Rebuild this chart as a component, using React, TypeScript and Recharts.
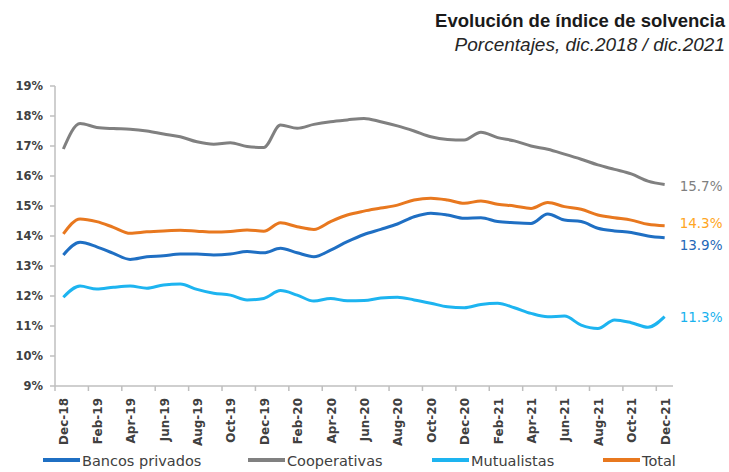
import { LineChart, Line, XAxis, YAxis, LabelList } from 'recharts'

const months = [
  'Dec-18', 'Jan-19', 'Feb-19', 'Mar-19', 'Apr-19', 'May-19', 'Jun-19', 'Jul-19', 'Aug-19', 'Sep-19',
  'Oct-19', 'Nov-19', 'Dec-19', 'Jan-20', 'Feb-20', 'Mar-20', 'Apr-20', 'May-20', 'Jun-20', 'Jul-20',
  'Aug-20', 'Sep-20', 'Oct-20', 'Nov-20', 'Dec-20', 'Jan-21', 'Feb-21', 'Mar-21', 'Apr-21', 'May-21',
  'Jun-21', 'Jul-21', 'Aug-21', 'Sep-21', 'Oct-21', 'Nov-21', 'Dec-21',
]

const bancosPrivados = [
  13.37, 13.79, 13.64, 13.42, 13.22, 13.31, 13.34, 13.4, 13.4, 13.37, 13.4, 13.48, 13.44,
  13.59, 13.44, 13.31, 13.53, 13.81, 14.05, 14.22, 14.4, 14.64, 14.76, 14.7, 14.59, 14.61,
  14.48, 14.44, 14.42, 14.73, 14.53, 14.48, 14.26, 14.17, 14.12, 14.0, 13.94,
]

const cooperativas = [
  16.9, 17.75, 17.62, 17.58, 17.56, 17.5, 17.4, 17.31, 17.14, 17.06, 17.11, 16.98, 16.95,
  17.7, 17.59, 17.72, 17.81, 17.87, 17.92, 17.81, 17.67, 17.5, 17.31, 17.22, 17.2, 17.46,
  17.28, 17.17, 17.0, 16.89, 16.73, 16.56, 16.37, 16.22, 16.07, 15.83, 15.72,
]

const mutualistas = [
  11.96, 12.33, 12.23, 12.29, 12.33, 12.26, 12.37, 12.4, 12.22, 12.09, 12.03, 11.87, 11.92,
  12.18, 12.03, 11.83, 11.92, 11.84, 11.85, 11.93, 11.96, 11.87, 11.76, 11.64, 11.61, 11.72,
  11.76, 11.61, 11.42, 11.31, 11.33, 11.03, 10.92, 11.2, 11.11, 10.96, 11.31,
]

const total = [
  14.07, 14.57, 14.48, 14.29, 14.09, 14.14, 14.17, 14.19, 14.16, 14.13, 14.15, 14.2, 14.16,
  14.44, 14.31, 14.22, 14.48, 14.7, 14.83, 14.93, 15.03, 15.2, 15.26, 15.2, 15.09, 15.17,
  15.06, 15.0, 14.92, 15.12, 14.98, 14.89, 14.7, 14.61, 14.53, 14.39, 14.34,
]

const yTicks = [9, 10, 11, 12, 13, 14, 15, 16, 17, 18, 19]

const series = [
  { key: 'bancos', label: 'Bancos privados', color: '#1F6FC3', labelColor: '#2468B8', dy: 7 },
  { key: 'coop', label: 'Cooperativas', color: '#808080', labelColor: '#7F7F7F', dy: 1.5 },
  { key: 'mutual', label: 'Mutualistas', color: '#1DB4F0', labelColor: '#19B2EE', dy: 0 },
  { key: 'total', label: 'Total', color: '#E8781F', labelColor: '#FFA522', dy: -3 },
]

const data = months.map((m, i) => ({
  month: m,
  bancos: bancosPrivados[i],
  coop: cooperativas[i],
  mutual: mutualistas[i],
  total: total[i],
}))

const W = 729
const H = 472
const PLOT_LEFT = 55
const PLOT_RIGHT = 673
const BAND = (PLOT_RIGHT - PLOT_LEFT) / months.length
const AXIS = '#BFBFBF'
const TEXT = '#404040'
const FONT = '"DejaVu Sans", sans-serif'

function MonthTick(props: any) {
  const { x, y, payload } = props
  return (
    <g>
      <line x1={x - BAND / 2} y1={y} x2={x - BAND / 2} y2={y + 5} stroke={AXIS} strokeWidth={1.5} />
      <text
        transform={`translate(${x + 5},${y + 12}) rotate(-90)`}
        textAnchor="end"
        fill={TEXT}
        fontSize={12}
        fontWeight="bold"
        fontFamily={FONT}
      >
        {payload.value}
      </text>
    </g>
  )
}

const endLabel = (color: string, dy: number) => (p: any) => {
  if (p.index !== months.length - 1) return null
  return (
    <text
      x={p.x + 15}
      y={p.y + dy}
      dominantBaseline="central"
      fill={color}
      fontSize={13.5}
      fontFamily={FONT}
    >
      {Number(p.value).toFixed(1)}%
    </text>
  )
}

// legend swatch start positions
const legendX = [43, 248, 432, 603]

export default function App() {
  return (
    <div style={{ position: 'absolute', left: 0, top: 0, width: W, height: H, background: '#fff' }}>
      <LineChart
        width={W}
        height={H}
        data={data}
        margin={{ top: 86, right: W - PLOT_RIGHT, bottom: 26, left: 0 }}
      >
        <XAxis
          dataKey="month"
          interval={1}
          height={60}
          tickSize={0}
          tickMargin={0}
          tickLine={false}
          padding={{ left: BAND / 2, right: BAND / 2 }}
          axisLine={{ stroke: AXIS, strokeWidth: 1.5 }}
          tick={<MonthTick />}
        />
        <YAxis
          type="number"
          domain={[9, 19]}
          ticks={yTicks}
          interval={0}
          width={PLOT_LEFT}
          tickSize={5}
          tickMargin={7}
          axisLine={{ stroke: AXIS, strokeWidth: 1.5 }}
          tickLine={{ stroke: AXIS, strokeWidth: 1.5 }}
          tickFormatter={(v: number) => `${v}%`}
          tick={{ fill: TEXT, fontSize: 11.5, fontWeight: 'bold', fontFamily: FONT }}
        />
        {series.map((s) => (
          <Line
            key={s.key}
            type="monotone"
            dataKey={s.key}
            name={s.label}
            stroke={s.color}
            strokeWidth={3}
            dot={false}
            isAnimationActive={false}
          >
            <LabelList dataKey={s.key} content={endLabel(s.labelColor, s.dy)} />
          </Line>
        ))}
      </LineChart>

      <svg
        width={W}
        height={H}
        style={{ position: 'absolute', left: 0, top: 0, pointerEvents: 'none' }}
      >
        <text
          x={725}
          y={26.7}
          textAnchor="end"
          fontFamily='"Liberation Sans", Arial, sans-serif'
          fontWeight="bold"
          fontSize={18.5}
          fill="#1a1a1a"
        >
          Evolución de índice de solvencia
        </text>
        <text
          x={725}
          y={50.7}
          textAnchor="end"
          fontFamily='"Liberation Sans", Arial, sans-serif'
          fontStyle="italic"
          fontSize={19}
          fill="#262626"
        >
          Porcentajes, dic.2018 / dic.2021
        </text>
        {series.map((s, i) => (
          <g key={s.key}>
            <line
              x1={legendX[i]}
              y1={460}
              x2={legendX[i] + 37}
              y2={460}
              stroke={s.color}
              strokeWidth={4}
            />
            <text
              x={legendX[i] + 39}
              y={465.5}
              fill={TEXT}
              fontSize={14.5}
              fontFamily={FONT}
            >
              {s.label}
            </text>
          </g>
        ))}
      </svg>
    </div>
  )
}
